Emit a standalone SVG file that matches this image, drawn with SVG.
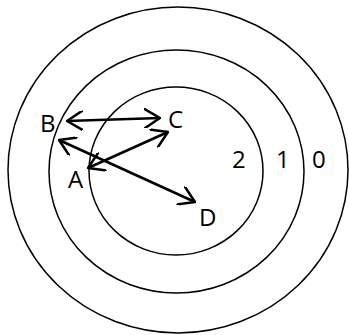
<svg xmlns="http://www.w3.org/2000/svg" width="349" height="335" viewBox="0 0 349 335">
<style>
.ring{fill:none;stroke:#000;stroke-width:1.5}
.conn{stroke:#000;stroke-width:2.5;fill:none;marker-start:url(#ah);marker-end:url(#ah)}
text{font-family:"Open Sans","Liberation Sans",sans-serif;font-size:24px;fill:#000}
</style>
<defs>
<marker id="ah" viewBox="0 0 17 20" refX="16" refY="10" markerWidth="17" markerHeight="20" markerUnits="userSpaceOnUse" orient="auto-start-reverse">
<path d="M0,0 L16,10 L0,20" fill="none" stroke="#000" stroke-width="2.5"/>
</marker>
</defs>
<rect width="349" height="335" fill="#fff"/>
<g id="ring0"><ellipse class="ring" cx="178" cy="170" rx="170" ry="163"/><text x="312" y="168">0</text></g>
<g id="ring1"><ellipse class="ring" cx="176.5" cy="171.5" rx="127.5" ry="121.5"/><text x="276" y="168">1</text></g>
<g id="ring2"><ellipse class="ring" cx="176" cy="171" rx="87" ry="84"/><text x="232" y="168">2</text></g>
<g id="B"><text x="40" y="132">B</text></g>
<g id="C"><text x="168" y="128">C</text></g>
<g id="A"><text x="68" y="188">A</text></g>
<g id="D"><text x="199" y="226">D</text></g>
<g id="connectors">
<line class="conn" x1="67" y1="121" x2="160" y2="118"/>
<line class="conn" x1="88" y1="168" x2="168" y2="132"/>
<line class="conn" x1="59" y1="140" x2="195" y2="202"/>
</g>
</svg>
